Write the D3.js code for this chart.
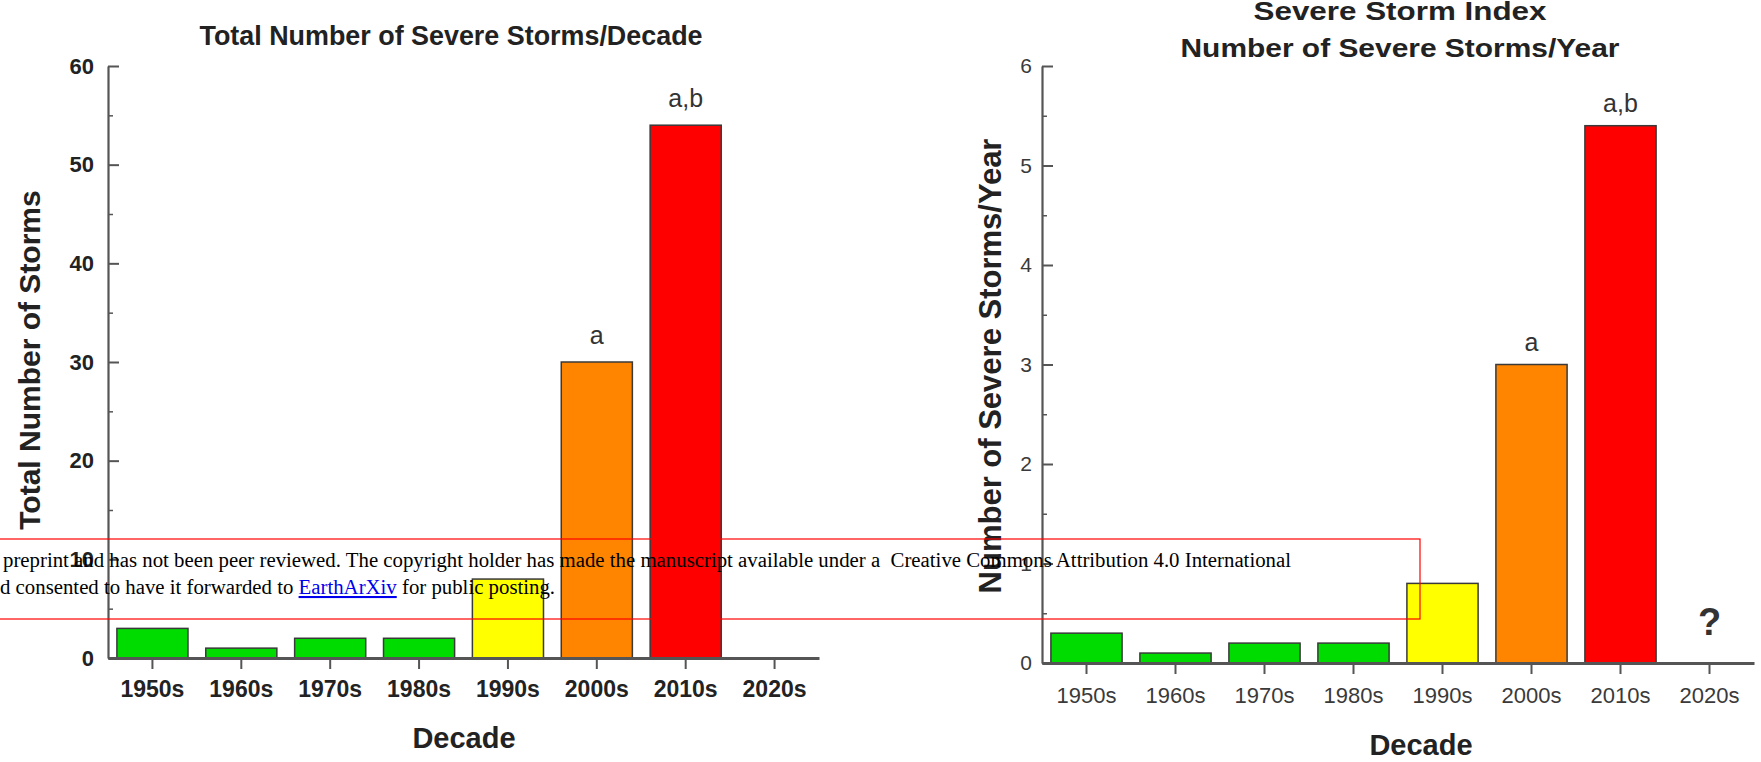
<!DOCTYPE html>
<html>
<head>
<meta charset="utf-8">
<script src="https://cdn.jsdelivr.net/npm/d3@7"></script>
<style>
  html, body { margin: 0; padding: 0; background: #fff; }
  svg { display: block; }
</style>
</head>
<body>
<svg id="chart" width="1761" height="762"></svg>
<script>
// ---------------- DATA ----------------
const decades = ["1950s", "1960s", "1970s", "1980s", "1990s", "2000s", "2010s", "2020s"];
const totalStorms = [3, 1, 2, 2, 8, 30, 54, null];          // storms per decade
const stormsPerYear = [0.3, 0.1, 0.2, 0.2, 0.8, 3.0, 5.4, null]; // severe storm index
const totalAnnotations = ["", "", "", "", "", "a", "a,b", ""];
const rateAnnotations = ["", "", "", "", "", "a", "a,b", "?"];
const leftTicks = [0, 10, 20, 30, 40, 50, 60];
const leftMinorTicks = [5, 15, 25, 35, 45, 55];
const rightTicks = [0, 1, 2, 3, 4, 5, 6];
const rightMinorTicks = [0.5, 1.5, 2.5, 3.5, 4.5, 5.5];
const leftTitle = "Total Number of Severe Storms/Decade";
const rightTitle = ["Severe Storm Index", "Number of Severe Storms/Year"];
const leftYLabel = "Total Number of Storms";
const rightYLabel = "Number of Severe Storms/Year";
const xLabel = "Decade";

// ---------------- STYLE ----------------
const color = d3.scaleOrdinal()
  .domain(decades)
  .range(["#00dc00", "#00dc00", "#00dc00", "#00dc00", "#ffff00", "#ff8400", "#ff0000", "#ffffff"]);
const FONT = "'Liberation Sans', Arial, Helvetica, sans-serif";
const AXIS = "#555";

const svg = d3.select("#chart");
svg.append("rect").attr("width", 1761).attr("height", 762).attr("fill", "#fff");

function panel(cfg) {
  const g = svg.append("g");
  const x = d3.scaleBand(decades, cfg.xRange).paddingInner(0.2).paddingOuter(0.1);
  const y = d3.scaleLinear(cfg.domain, cfg.yRange);
  const rows = decades.map((d, i) => ({ d, v: cfg.values[i], ann: cfg.ann[i] }));

  // bars
  g.selectAll("rect.bar").data(rows.filter(r => r.v != null)).join("rect")
    .attr("class", "bar")
    .attr("x", r => x(r.d))
    .attr("width", x.bandwidth())
    .attr("y", r => y(r.v))
    .attr("height", r => y(0) - y(r.v))
    .attr("fill", r => color(r.d))
    .attr("stroke", "#3a3a3a")
    .attr("stroke-width", 1.5);

  // minor y ticks
  const minor = g.append("g").attr("transform", `translate(${cfg.xRange[0]},0)`)
    .call(d3.axisLeft(y).tickValues(cfg.minor).tickSize(-5).tickFormat(""));
  minor.select(".domain").remove();
  minor.selectAll(".tick line").attr("stroke", AXIS).attr("stroke-width", 1.5);

  // major y axis
  const ya = g.append("g").attr("transform", `translate(${cfg.xRange[0]},0)`)
    .call(d3.axisLeft(y).tickValues(cfg.ticks).tickSizeInner(-11).tickSizeOuter(0)
      .tickPadding(cfg.yPad).tickFormat(d3.format("d")));
  ya.select(".domain").attr("stroke", AXIS).attr("stroke-width", 2.2);
  ya.selectAll(".tick line").attr("stroke", AXIS).attr("stroke-width", 2);
  ya.selectAll(".tick text")
    .attr("font-family", FONT).attr("font-size", cfg.tickSize)
    .attr("font-weight", cfg.tickWeight).attr("fill", cfg.tickFill);

  // x axis
  const xa = g.append("g").attr("transform", `translate(0,${y(0)})`)
    .call(d3.axisBottom(x).tickSizeInner(11).tickSizeOuter(0).tickPadding(cfg.xPad));
  xa.select(".domain").attr("stroke", AXIS).attr("stroke-width", 3.2);
  xa.selectAll(".tick line").attr("stroke", AXIS).attr("stroke-width", 2);
  xa.selectAll(".tick text")
    .attr("font-family", FONT).attr("font-size", cfg.xTickSize)
    .attr("font-weight", cfg.tickWeight).attr("fill", cfg.tickFill);

  // annotations
  g.selectAll("text.ann").data(rows.filter(r => r.ann)).join("text")
    .attr("class", "ann")
    .attr("x", r => x(r.d) + x.bandwidth() / 2)
    .attr("y", r => r.v != null ? y(r.v) - cfg.annGap : y(0) - 28)
    .attr("text-anchor", "middle")
    .attr("font-family", FONT)
    .attr("font-size", r => r.v != null ? 25 : 38)
    .attr("font-weight", r => r.v != null ? "normal" : "bold")
    .attr("fill", "#333")
    .text(r => r.ann);

  // y label
  g.append("text")
    .attr("transform", `translate(${cfg.yLabelX},${cfg.yLabelY}) rotate(-90)`)
    .attr("text-anchor", "middle")
    .attr("font-family", FONT).attr("font-size", cfg.yLabelSize).attr("font-weight", "bold")
    .attr("fill", "#222")
    .text(cfg.yLabel);

  // x label
  g.append("text")
    .attr("x", cfg.xLabelX).attr("y", cfg.xLabelY)
    .attr("text-anchor", "middle")
    .attr("font-family", FONT).attr("font-size", 29).attr("font-weight", "bold")
    .attr("fill", "#222")
    .text(xLabel);

  // titles
  cfg.titles.forEach(t => {
    g.append("text")
      .attr("x", t.x).attr("y", t.y)
      .attr("text-anchor", "middle")
      .attr("font-family", FONT).attr("font-size", t.size).attr("font-weight", "bold")
      .attr("fill", "#222")
      .attr("textLength", t.len).attr("lengthAdjust", "spacingAndGlyphs")
      .text(t.text);
  });
}

panel({
  values: totalStorms, ann: totalAnnotations,
  xRange: [108, 819], yRange: [658, 66], domain: [0, 60],
  ticks: leftTicks, minor: leftMinorTicks,
  yPad: 14, xPad: 12, tickSize: 22, xTickSize: 23, tickWeight: "bold", tickFill: "#222",
  annGap: 18,
  yLabel: leftYLabel, yLabelX: 40, yLabelY: 360, yLabelSize: 30,
  xLabelX: 464, xLabelY: 748,
  titles: [{ text: leftTitle, x: 451, y: 45, size: 27, len: 503 }]
});

panel({
  values: stormsPerYear, ann: rateAnnotations,
  xRange: [1042, 1754], yRange: [663, 66], domain: [0, 6],
  ticks: rightTicks, minor: rightMinorTicks,
  yPad: 10, xPad: 13, tickSize: 21, xTickSize: 22, tickWeight: "normal", tickFill: "#3a3a3a",
  annGap: 14,
  yLabel: rightYLabel, yLabelX: 1001, yLabelY: 366, yLabelSize: 31,
  xLabelX: 1421, xLabelY: 755,
  titles: [
    { text: rightTitle[0], x: 1400, y: 20, size: 26, len: 293 },
    { text: rightTitle[1], x: 1400, y: 57, size: 26, len: 439 }
  ]
});

// ---------------- preprint notice overlay ----------------
const note = svg.append("g").attr("font-family", "'Liberation Serif', 'Times New Roman', serif")
  .attr("font-size", 20.8).attr("fill", "#000");
note.append("rect")
  .attr("x", -2).attr("y", 539).attr("width", 1422).attr("height", 80)
  .attr("fill", "none").attr("stroke", "#ff0000").attr("stroke-width", 1.2);
note.append("text").attr("x", 3).attr("y", 567)
  .attr("xml:space", "preserve")
  .attr("textLength", 1288).attr("lengthAdjust", "spacingAndGlyphs")
  .text("preprint and has not been peer reviewed. The copyright holder has made the manuscript available under a  Creative Commons Attribution 4.0 International");
const l2 = note.append("text").attr("x", 0).attr("y", 594);
l2.append("tspan").text("d consented to have it forwarded to ");
l2.append("tspan").attr("fill", "#0000ee").attr("text-decoration", "underline").text("EarthArXiv");
l2.append("tspan").text(" for public posting.");
</script>
</body>
</html>
